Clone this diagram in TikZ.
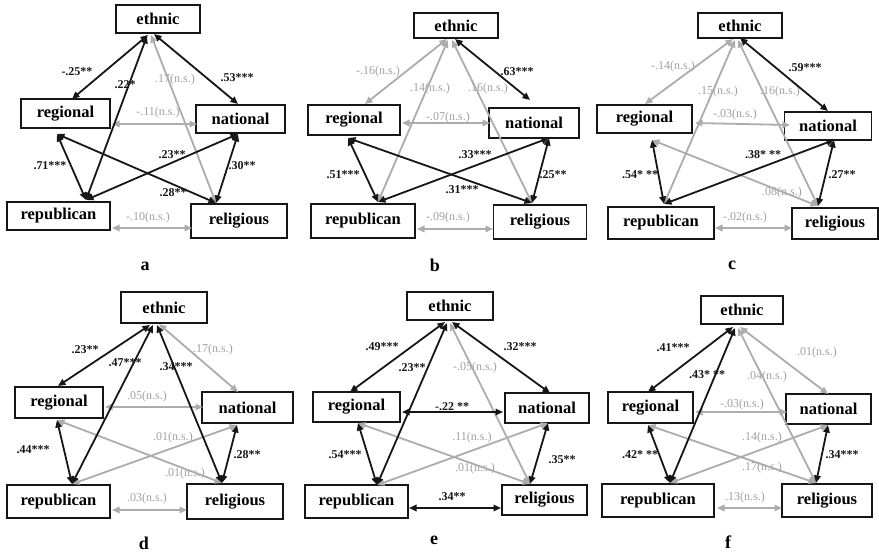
\documentclass[tikz,border=0pt]{standalone}
\usepackage{fontspec}
\setmainfont{Liberation Serif}
\usetikzlibrary{arrows.meta}
\definecolor{lg}{RGB}{172,172,172}
\definecolor{lgt}{RGB}{160,160,160}
\definecolor{dk}{RGB}{22,22,22}
\newcommand\bx[6]{\node[box, minimum width=#4pt, minimum height=#5pt] (#1) at (#2,#3) {#6};}
\newcommand\cp[3]{\coordinate (#1) at (#2,#3);}
\begin{document}
\begin{tikzpicture}[x=1pt,y=-1pt,
 box/.style={draw=dk, line width=1.6pt, inner sep=0pt, font=\fontsize{16.5}{18}\selectfont\bfseries},
 blk/.style={draw=dk, line width=1.8pt, {Triangle[length=7.5pt,width=6.5pt]}-{Triangle[length=7.5pt,width=6.5pt]}},
 gry/.style={blk, draw=lg},
 bl/.style={font=\fontsize{12}{12}\selectfont\bfseries, text=dk, inner sep=0pt},
 gl/.style={font=\fontsize{12}{12}\selectfont, text=lgt, inner sep=0pt},
 panlab/.style={font=\fontsize{18}{18}\selectfont\bfseries, inner sep=0pt}]
\useasboundingbox (0,0) rectangle (879,554);

% ================= panel a =================
\bx{aeth}{158}{19}{84}{28}{ethnic}
\bx{areg}{65.5}{113.5}{89}{29}{regional}
\bx{anat}{240.5}{119}{89}{28}{national}
\bx{arep}{58.5}{216}{103}{28}{republican}
\bx{arel}{239}{221}{96}{34}{religious}
\node[panlab] (alab) at (145,266) {a};
\node[bl] (a1) at (77,72) {-.25**};
\node[bl] (a2) at (125,85) {.22*};
\node[gl] (a3) at (175,80) {.17(n.s.)};
\node[bl] (a4) at (237,78) {.53***};
\node[gl] (a5) at (158,113) {-.11(n.s.)};
\node[bl] (a6) at (172,155) {.23**};
\node[bl] (a7) at (50,166) {.71***};
\node[bl] (a8) at (242,166) {.30**};
\node[bl] (a9) at (173,193) {.28**};
\node[gl] (a10) at (148,218) {-.10(n.s.)};
\cp{aE1}{148}{35}\cp{aE2}{147}{36}\cp{aE3}{151}{35}\cp{aE4}{154}{34}
\cp{aRt}{72}{99}\cp{aRr}{112}{124}\cp{aRb}{57}{134}
\cp{aNt}{238}{104}\cp{aNl}{197}{124}\cp{aNb}{238}{134}
\cp{aPt}{86}{200}\cp{aPr}{112}{228}
\cp{aLt}{216}{203}\cp{aLl}{192}{228}
\draw[gry] (aE3) -- (aLt);
\draw[gry] (aRr) -- (aNl);
\draw[gry] (aPr) -- (aLl);
\draw[blk] (aE1) -- (aRt);
\draw[blk] (aE2) -- (aPt);
\draw[blk] (aE4) -- (aNt);
\draw[blk] (aRb) -- (aPt);
\draw[blk] (aRb) -- (aLt);
\draw[blk] (aNb) -- (aPt);
\draw[blk] (aNb) -- (aLt);

% ================= panel b =================
\bx{beth}{456}{25.5}{84}{25}{ethnic}
\bx{breg}{354}{120}{92}{30}{regional}
\bx{bnat}{534}{123}{90}{30}{national}
\bx{brep}{363}{221}{104}{34}{republican}
\bx{brel}{540}{222}{93}{34}{religious}
\node[panlab] (blab) at (435,265) {b};
\node[gl] (b1) at (378,72) {-.16(n.s.)};
\node[gl] (b2) at (430,89) {.14(n.s.)};
\node[gl] (b3) at (488,89) {.16(n.s.)};
\node[bl] (b4) at (517,72) {.63***};
\node[gl] (b5) at (448,118) {-.07(n.s.)};
\node[bl] (b6) at (475,155) {.33***};
\node[bl] (b7) at (343,175) {.51***};
\node[bl] (b8) at (553,175) {.25**};
\node[bl] (b9) at (462,190) {.31***};
\node[gl] (b10) at (448,218) {-.09(n.s.)};
\cp{bE1}{447}{39}\cp{bE2}{448}{40}\cp{bE3}{452}{40}\cp{bE4}{455}{39}
\cp{bRt}{365}{104}\cp{bRr}{402}{123}\cp{bRb}{348}{138}
\cp{bNt}{530}{100}\cp{bNl}{490}{123}\cp{bNb}{549}{138}
\cp{bPt}{378}{202}\cp{bPr}{417}{229}
\cp{bLt}{532}{203}\cp{bLl}{493}{229}
\draw[gry] (bE1) -- (bRt);
\draw[gry] (bE2) -- (bPt);
\draw[gry] (bE3) -- (bLt);
\draw[gry] (bRr) -- (bNl);
\draw[gry] (bPr) -- (bLl);
\draw[blk] (bE4) -- (bNt);
\draw[blk] (bRb) -- (bPt);
\draw[blk] (bRb) -- (bLt);
\draw[blk] (bNb) -- (bPt);
\draw[blk] (bNb) -- (bLt);

% ================= panel c =================
\bx{ceth}{740}{25.5}{84}{25}{ethnic}
\bx{creg}{644.5}{119}{95}{28}{regional}
\bx{cnat}{828}{126}{87}{28}{national}
\bx{crep}{661}{223}{106}{32}{republican}
\bx{crel}{835}{223.5}{86}{31}{religious}
\node[panlab] (clab) at (732,265) {c};
\node[gl] (c1) at (673,67) {-.14(n.s.)};
\node[gl] (c2) at (718,92) {.15(n.s.)};
\node[gl] (c3) at (780,92) {.16(n.s.)};
\node[bl] (c4) at (805,68) {.59***};
\node[gl] (c5) at (735,115) {-.03(n.s.)};
\node[bl] (c6) at (763,155) {.38* **};
\node[bl] (c7) at (640,175) {.54* **};
\node[bl] (c8) at (842,175) {.27**};
\node[gl] (c9) at (782,193) {.08(n.s.)};
\node[gl] (c10) at (745,218) {-.02(n.s.)};
\cp{cE1}{733}{39}\cp{cE2}{735}{40}\cp{cE3}{738}{40}\cp{cE4}{740}{38}
\cp{cRt}{645}{104}\cp{cRr}{695}{123}\cp{cRb}{652}{140}
\cp{cNt}{828}{111}\cp{cNl}{790}{125}\cp{cNb}{834}{140}
\cp{cPt}{664}{204}\cp{cPr}{715}{228}
\cp{cLt}{818}{206}\cp{cLl}{792}{228}
\draw[gry] (cE1) -- (cRt);
\draw[gry] (cE2) -- (cPt);
\draw[gry] (cE3) -- (cLt);
\draw[gry] (cRr) -- (cNl);
\draw[gry] (cRb) -- (cLt);
\draw[gry] (cPr) -- (cLl);
\draw[blk] (cE4) -- (cNt);
\draw[blk] (cRb) -- (cPt);
\draw[blk] (cNb) -- (cPt);
\draw[blk] (cNb) -- (cLt);

% ================= panel d =================
\bx{deth}{164}{307.5}{86}{31}{ethnic}
\bx{dreg}{59}{402.5}{88}{31}{regional}
\bx{dnat}{247.5}{407.5}{91}{31}{national}
\bx{drep}{58.5}{501.5}{103}{33}{republican}
\bx{drel}{235}{501.5}{96}{35}{religious}
\node[panlab] (dlab) at (144,543) {d};
\node[bl] (d1) at (85,350) {.23**};
\node[bl] (d2) at (125,363) {.47***};
\node[bl] (d3) at (176,367) {.34***};
\node[gl] (d4) at (213,350) {.17(n.s.)};
\node[gl] (d5) at (147,397) {.05(n.s.)};
\node[gl] (d6) at (173,438) {.01(n.s.)};
\node[bl] (d7) at (33,450) {.44***};
\node[bl] (d8) at (247,455) {.28**};
\node[gl] (d9) at (185,474) {.01(n.s.)};
\node[gl] (d10) at (147,499) {.03(n.s.)};
\cp{dE1}{150}{325}\cp{dE2}{153}{325}\cp{dE3}{157}{325}\cp{dE4}{159}{324}
\cp{dRt}{58}{386}\cp{dRr}{105}{407}\cp{dRb}{57}{420}
\cp{dNt}{238}{392}\cp{dNl}{203}{407}\cp{dNb}{237}{425}
\cp{dPt}{72}{484}\cp{dPr}{112}{510}
\cp{dLt}{222}{483}\cp{dLl}{187}{510}
\draw[gry] (dE4) -- (dNt);
\draw[gry] (dRr) -- (dNl);
\draw[gry] (dRb) -- (dLt);
\draw[gry] (dNb) -- (dPt);
\draw[gry] (dPr) -- (dLl);
\draw[blk] (dE1) -- (dRt);
\draw[blk] (dE2) -- (dPt);
\draw[blk] (dE3) -- (dLt);
\draw[blk] (dRb) -- (dPt);
\draw[blk] (dNb) -- (dLt);

% ================= panel e =================
\bx{eeth}{450}{306}{86}{28}{ethnic}
\bx{ereg}{356.5}{407}{87}{30}{regional}
\bx{enat}{547}{408}{84}{30}{national}
\bx{erep}{356.5}{501.5}{103}{33}{republican}
\bx{erel}{544.5}{500}{85}{30}{religious}
\node[panlab] (elab) at (434,540) {e};
\node[bl] (e1) at (382,347) {.49***};
\node[bl] (e2) at (412,368) {.23**};
\node[gl] (e3) at (475,368) {-.05(n.s.)};
\node[bl] (e4) at (520,347) {.32***};
\node[bl] (e5) at (452,407) {-.22 **};
\node[gl] (e6) at (472,438) {.11(n.s.)};
\node[bl] (e7) at (345,455) {.54***};
\node[bl] (e8) at (562,460) {.35**};
\node[gl] (e9) at (475,469) {.01(n.s.)};
\node[bl] (e10) at (452,497) {.34**};
\cp{eE1}{445}{322}\cp{eE2}{447}{323}\cp{eE3}{450}{323}\cp{eE4}{452}{322}
\cp{eRt}{350}{392}\cp{eRr}{402}{412}\cp{eRb}{358}{423}
\cp{eNt}{550}{393}\cp{eNl}{503}{412}\cp{eNb}{548}{423}
\cp{ePt}{377}{485}\cp{ePr}{409}{508}
\cp{eLt}{530}{484}\cp{eLl}{501}{508}
\draw[gry] (eE3) -- (eLt);
\draw[gry] (eRb) -- (eLt);
\draw[gry] (eNb) -- (ePt);
\draw[blk] (eE1) -- (eRt);
\draw[blk] (eE2) -- (ePt);
\draw[blk] (eE4) -- (eNt);
\draw[blk] (eRr) -- (eNl);
\draw[blk] (eRb) -- (ePt);
\draw[blk] (eNb) -- (eLt);
\draw[blk] (ePr) -- (eLl);

% ================= panel f =================
\bx{feth}{742}{310}{82}{28}{ethnic}
\bx{freg}{650.5}{407.5}{85}{31}{regional}
\bx{fnat}{828.5}{409}{85}{30}{national}
\bx{frep}{658}{500.5}{112}{33}{republican}
\bx{frel}{827}{500.5}{90}{33}{religious}
\node[panlab] (flab) at (728,542) {f};
\node[bl] (f1) at (673,348) {.41***};
\node[bl] (f2) at (707,375) {.43* **};
\node[gl] (f3) at (817,353) {.01(n.s.)};
\node[gl] (f4) at (767,377) {.04(n.s.)};
\node[gl] (f5) at (742,405) {-.03(n.s.)};
\node[gl] (f6) at (762,438) {.14(n.s.)};
\node[bl] (f7) at (640,455) {.42* **};
\node[bl] (f8) at (842,455) {.34***};
\node[gl] (f9) at (762,468) {.17(n.s.)};
\node[gl] (f10) at (745,498) {.13(n.s.)};
\cp{fE1}{733}{327}\cp{fE2}{735}{328}\cp{fE3}{738}{328}\cp{fE4}{740}{327}
\cp{fRt}{648}{392}\cp{fRr}{695}{412}\cp{fRb}{648}{425}
\cp{fNt}{828}{394}\cp{fNl}{787}{412}\cp{fNb}{828}{425}
\cp{fPt}{670}{483}\cp{fPr}{717}{508}
\cp{fLt}{816}{483}\cp{fLl}{782}{508}
\draw[gry] (fE3) -- (fLt);
\draw[gry] (fE4) -- (fNt);
\draw[gry] (fRr) -- (fNl);
\draw[gry] (fRb) -- (fLt);
\draw[gry] (fNb) -- (fPt);
\draw[gry] (fPr) -- (fLl);
\draw[blk] (fE1) -- (fRt);
\draw[blk] (fE2) -- (fPt);
\draw[blk] (fRb) -- (fPt);
\draw[blk] (fNb) -- (fLt);
\end{tikzpicture}
\end{document}
